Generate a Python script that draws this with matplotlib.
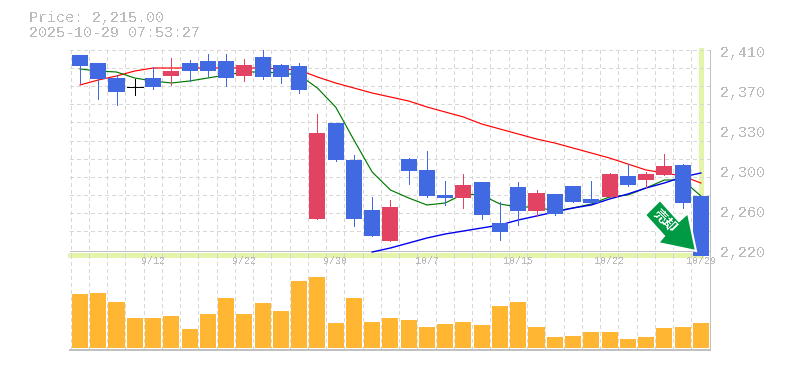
import matplotlib
matplotlib.use('Agg')
import matplotlib.pyplot as plt
from matplotlib.patches import Polygon

plt.rcParams['text.antialiased'] = False
plt.rcParams['lines.antialiased'] = False
plt.rcParams['patch.antialiased'] = False

W, H = 785, 370

# prices (candle order, oldest first)
opens = [2408, 2400, 2385, 2376, 2385, 2387, 2400, 2402, 2402, 2387, 2406, 2398, 2397,
         2244, 2340, 2303, 2253, 2222, 2304, 2293, 2268, 2265, 2281, 2240, 2276, 2252,
         2269, 2277, 2264, 2266, 2287, 2283, 2288, 2298, 2267]
closes = [2397, 2384, 2371, 2376, 2376, 2392, 2392, 2392, 2385, 2398, 2386, 2386, 2373,
          2330, 2303, 2244, 2227, 2256, 2292, 2267, 2265, 2278, 2248, 2231, 2252, 2270,
          2249, 2261, 2260, 2289, 2278, 2289, 2297, 2260, 2207]
highs = [2408, 2400, 2388, 2384, 2396, 2405, 2403, 2409, 2409, 2404, 2413, 2399, 2400,
         2349, 2340, 2308, 2266, 2263, 2305, 2312, 2282, 2289, 2281, 2261, 2281, 2273,
         2269, 2277, 2282, 2290, 2299, 2291, 2309, 2299, 2267]
lows = [2380, 2364, 2358, 2368, 2374, 2378, 2382, 2387, 2377, 2382, 2384, 2380, 2370,
        2244, 2302, 2237, 2227, 2222, 2279, 2266, 2258, 2255, 2244, 2223, 2238, 2247,
        2248, 2261, 2260, 2266, 2277, 2275, 2288, 2255, 2207]
ma_red = [2378, 2383, 2387, 2392, 2395, 2395, 2395, 2395, 2395, 2395, 2395, 2394, 2393,
          2386, 2380, 2375, 2370, 2366, 2362, 2356, 2351, 2346, 2339, 2334, 2329, 2324,
          2320, 2315, 2310, 2305, 2299, 2293, 2290, 2287, 2280]
ma_green = [2394, 2392, 2391, 2385, 2382, 2380, 2382, 2385, 2388, 2391, 2391, 2390, 2388,
            2375, 2356, 2323, 2291, 2273, 2265, 2258, 2260, 2269, 2268, 2259, 2256, 2256,
            2252, 2255, 2259, 2266, 2268, 2275, 2283, 2283, 2267]
ma_blue = [2211, 2215, 2220, 2225, 2229, 2232, 2235, 2238, 2243, 2247,
           2251, 2255, 2258, 2264, 2269, 2275, 2280, 2286, 2290]
volumes = [54, 55, 46, 30, 30, 32, 19, 34, 50, 34, 45, 37, 67, 71, 25, 50, 26, 30,
           28, 21, 24, 26, 23, 42, 46, 21, 11, 12, 16, 16, 9, 11, 20, 21, 25]
date_labels = ['9/12', '9/22', '9/30', '10/7', '10/15', '10/22', '10/29']
price_labels = ['2,410', '2,370', '2,330', '2,300', '2,260', '2,220']

xs = list(range(len(opens)))
UP = '#e24362'
DOWN = '#4169e1'
GRID = '#d8d8d8'
TEXT = '#bbbbbb'
FONT = 'Liberation Mono'
DASH = (0, (4, 4))
THIN = 0.55


def px_axes(left, top, right, bottom):
    return fig.add_axes([left / W, 1 - bottom / H, (right - left) / W, (bottom - top) / H])


def hline(y, x0, x1, color, lw, z=-1):
    fig.add_artist(plt.Line2D([x0 / W, x1 / W], [1 - y / H] * 2, color=color, lw=lw, zorder=z))


def vline(x, y0, y1, color, lw, z=-1):
    fig.add_artist(plt.Line2D([x / W] * 2, [1 - y0 / H, 1 - y1 / H], color=color, lw=lw, zorder=z))


fig = plt.figure(figsize=(W / 100, H / 100), dpi=100, facecolor='white')

# one candle step is 18.26 px, first candle sits at x=80
step = 18.26
x0 = (70 - 80) / step
x1 = (710 - 80) / step

ax = px_axes(70, 50, 710, 256)
ax.set_xlim(x0, x1)
ax.set_ylim(2207, 2413)
vol = px_axes(70, 256, 710, 349)
vol.set_xlim(x0, x1)
vol.set_ylim(-1, 92)

for a in (ax, vol):
    a.patch.set_alpha(0)
    for s in a.spines.values():
        s.set_visible(False)
    a.tick_params(length=0, labelbottom=False, labelleft=False)
    for i in range(36):
        a.axvline(i - 0.52, color=GRID, lw=THIN, ls=DASH, zorder=0)

# horizontal grid, 18 px apart
for i in range(11):
    ax.axhline(2413 - i * 18.1, color=GRID, lw=THIN, ls=DASH, zorder=0)

# moving averages run behind the candle bodies
ax.plot(xs, ma_red, color='#ff0000', lw=0.85, antialiased=True, zorder=1)
ax.plot(xs, ma_green, color='#007a00', lw=0.85, antialiased=True, zorder=1)
ax.plot(xs[16:], ma_blue, color='#0000ee', lw=1, antialiased=True, zorder=1)

for x, o, c, h, l in zip(xs, opens, closes, highs, lows):
    col = UP if c > o else DOWN
    if o == c:
        ax.plot([x - 0.43, x + 0.43], [o, o], color='black', lw=THIN, zorder=3)
        ax.plot([x, x], [l, h], color='black', lw=THIN, zorder=3)
        continue
    ax.plot([x, x], [l, h], color=col, lw=THIN, zorder=2, solid_capstyle='butt')
    ax.bar(x, abs(c - o), bottom=min(o, c), width=0.88, color=col, zorder=3)

vol.bar(xs, volumes, width=0.88, color='#ffb733', zorder=3)

# frame lines and the yellow crosshair, kept under the candles
hline(250.5, 70, 710, '#c0c0c0', THIN)
hline(349.5, 70, 710, '#c0c0c0', 1.4)
vline(710, 50, 350, '#c0c0c0', THIN)
hline(255, 70, 701, '#e4f4a8', 2.2)
vline(700.5, 50, 256, '#e4f4a8', 2.2)

# arrow badge
arrow = [(660, 200), (645, 215), (664, 236), (658, 243), (696, 251), (688, 213), (679, 221)]
pts = [(x / W, 1 - y / H) for x, y in arrow]
fig.add_artist(Polygon(pts, closed=True, transform=fig.transFigure, facecolor='#009a44',
                       edgecolor='white', lw=1.5, zorder=6, antialiased=True))
fig.text(665 / W, 1 - 221 / H, '売却', color='white', rotation=-45, ha='center', va='center',
         family=['Noto Sans CJK JP', 'DejaVu Sans'], weight='bold', fontsize=9.5, zorder=7,
         rotation_mode='anchor')

# texts
fig.text(29 / W, 1 - 18 / H, 'Price: 2,215.00', color=TEXT, family=FONT, fontsize=10.8, va='center')
fig.text(29 / W, 1 - 33 / H, '2025-10-29 07:53:27', color=TEXT, family=FONT, fontsize=10.8, va='center')

# the labels sit 40 px apart
for i, lab in enumerate(price_labels):
    fig.text(720 / W, 1 - (53 + 40 * i) / H, lab, color=TEXT, family=FONT, fontsize=10.8, va='center')

for i, lab in enumerate(date_labels):
    x = 4 + i * 5
    fig.text((80 + x * step) / W, 1 - 261 / H, lab, color=TEXT, family=FONT, fontsize=7.2,
             ha='center', va='center')

fig.savefig('out.png', dpi=100)
